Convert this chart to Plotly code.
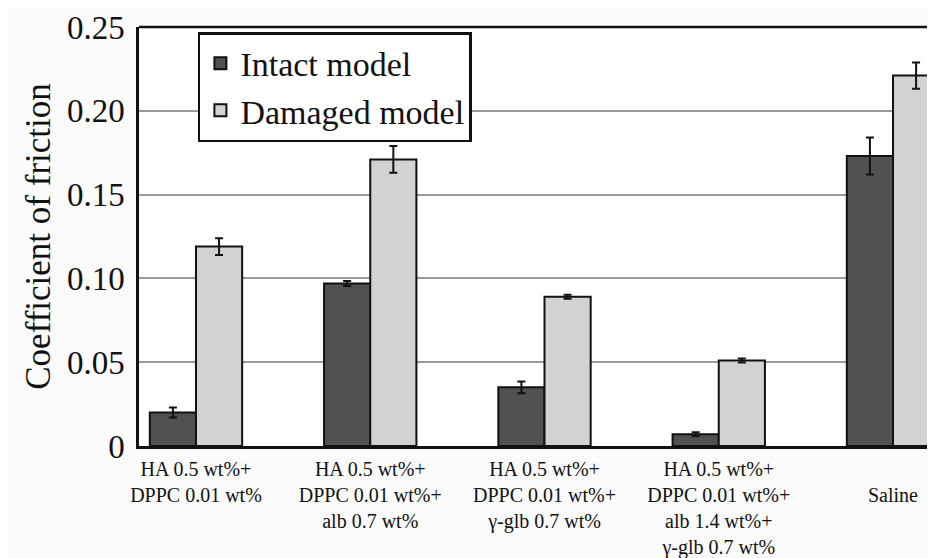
import plotly.graph_objects as go

categories = [
    "HA 0.5 wt%+<br>DPPC 0.01 wt%",
    "HA 0.5 wt%+<br>DPPC 0.01 wt%+<br>alb 0.7 wt%",
    "HA 0.5 wt%+<br>DPPC 0.01 wt%+<br>γ-glb 0.7 wt%",
    "HA 0.5 wt%+<br>DPPC 0.01 wt%+<br>alb 1.4 wt%+<br>γ-glb 0.7 wt%",
    "<br>Saline",
]
intact = [0.020, 0.097, 0.035, 0.007, 0.173]
intact_err = [0.003, 0.0015, 0.0035, 0.0012, 0.011]
damaged = [0.119, 0.171, 0.089, 0.051, 0.221]
damaged_err = [0.005, 0.008, 0.0012, 0.0012, 0.0078]

y_tickvals = [0, 0.05, 0.10, 0.15, 0.20, 0.25]
y_ticktext = ["0", "0.05", "0.10", "0.15", "0.20", "0.25"]

FONT = "Liberation Serif"

fig = go.Figure()
fig.add_trace(go.Bar(
    name="Intact model", x=categories, y=intact,
    marker=dict(color="#515151", line=dict(color="#111111", width=2)),
    error_y=dict(type="data", array=intact_err, color="#111111", thickness=2, width=4),
))
fig.add_trace(go.Bar(
    name="Damaged model", x=categories, y=damaged,
    marker=dict(color="#d2d2d2", line=dict(color="#111111", width=2)),
    error_y=dict(type="data", array=damaged_err, color="#111111", thickness=2, width=4),
))

# top frame line
fig.add_shape(type="line", xref="paper", yref="paper", x0=0, x1=1, y0=1, y1=1,
              line=dict(color="#111111", width=2.5))

fig.update_layout(
    width=927, height=550,
    margin=dict(l=131, r=0, t=19, b=112),
    paper_bgcolor="#fbfbfb", plot_bgcolor="#ffffff",
    barmode="group", bargap=0.47, bargroupgap=0,
    font=dict(family=FONT, color="#111111"),
    legend=dict(
        x=0.074, y=0.988, xanchor="left", yanchor="top",
        bgcolor="#ffffff", bordercolor="#111111", borderwidth=2.5,
        font=dict(family=FONT, size=34, color="#111111"),
        tracegroupgap=0, itemsizing="constant",
    ),
    xaxis=dict(
        type="category", range=[-0.327, 4.241], automargin=False,
        showline=True, linecolor="#111111", linewidth=2.5,
        showgrid=False, ticks="", ticklabelstandoff=3,
        tickfont=dict(family=FONT, size=20, color="#111111"),
        tickangle=0,
    ),
    yaxis=dict(
        range=[0, 0.25], tickvals=y_tickvals, ticktext=y_ticktext, automargin=False,
        showline=True, linecolor="#111111", linewidth=2.5,
        showgrid=True, gridcolor="#9a9a9a", gridwidth=1.5,
        zeroline=False, ticks="", ticklabelstandoff=5,
        tickfont=dict(family=FONT, size=33, color="#111111"),
        title=dict(text="Coefficient of friction", font=dict(family=FONT, size=35, color="#111111"), standoff=6),
    ),
)

fig.write_html("out.html")
